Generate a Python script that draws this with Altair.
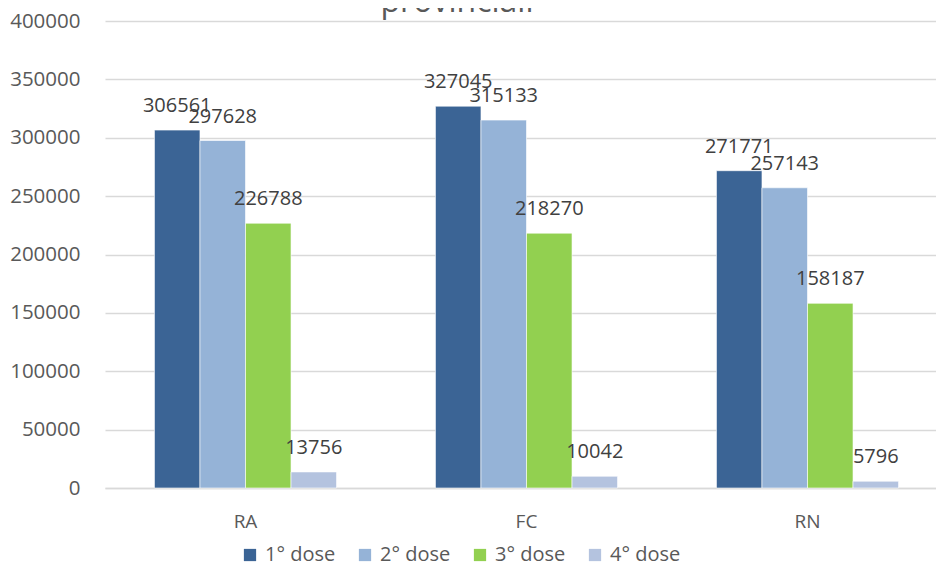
import altair as alt
import pandas as pd

provinces = ["RA", "FC", "RN"]
doses = ["1° dose", "2° dose", "3° dose", "4° dose"]
dose1 = [306561, 327045, 271771]
dose2 = [297628, 315133, 257143]
dose3 = [226788, 218270, 158187]
dose4 = [13756, 10042, 5796]
colors = ["#3B6495", "#95B3D7", "#92D050", "#B4C3DF"]
title_text = ["provinciali"]

rows = []
for i, p in enumerate(provinces):
    for d, vals in zip(doses, [dose1, dose2, dose3, dose4]):
        rows.append({"prov": p, "dose": d, "value": vals[i]})
df = pd.DataFrame(rows)

FONT = "Open Sans"

base = alt.Chart(df).encode(
    x=alt.X(
        "prov:N",
        sort=provinces,
        scale=alt.Scale(paddingInner=0.352, paddingOuter=0.176, range=[0, 843]),
        axis=alt.Axis(
            title=None, labelAngle=0, ticks=False, labelPadding=24,
            labelFontSize=19, labelColor="#595959", labelFont=FONT,
            domainColor="#D9D9D9", domainWidth=1.5, grid=False,
        ),
    ),
    xOffset=alt.XOffset("dose:N", sort=doses, scale=alt.Scale(paddingInner=0, paddingOuter=0)),
    y=alt.Y(
        "value:Q",
        scale=alt.Scale(domain=[0, 400000], nice=False),
        axis=alt.Axis(
            title=None, values=list(range(0, 400001, 50000)), format="d",
            ticks=False, domain=False, labelPadding=25, labelFontSize=20.5,
            labelColor="#595959", labelFont=FONT,
            gridColor="#D9D9D9", gridWidth=1.5,
        ),
    ),
)

bars = base.mark_bar(stroke="white", strokeWidth=0.6).encode(
    color=alt.Color(
        "dose:N",
        sort=doses,
        scale=alt.Scale(domain=doses, range=colors),
        legend=alt.Legend(
            title=None, orient="none", direction="horizontal", columns=4,
            legendX=135, legendY=524, symbolType="square", symbolSize=150,
            symbolStrokeWidth=0, labelFontSize=20, labelColor="#595959",
            labelFont=FONT, columnPadding=19, labelOffset=5,
        ),
    )
)

labels = base.mark_text(
    baseline="alphabetic", dy=-18, fontSize=20, color="#404040", font=FONT
).encode(text=alt.Text("value:Q", format="d"))

title = alt.Chart(pd.DataFrame({"t": title_text})).mark_text(
    baseline="alphabetic", align="center", fontSize=32, color="#595959", font=FONT
).encode(x=alt.value(352), y=alt.value(-9), text="t:N")

chart = alt.layer(bars, labels, title).properties(
    width=831, height=467,
    autosize=alt.AutoSizeParams(type="none"),
    padding={"left": 97, "top": 13, "right": 0, "bottom": 76},
).configure_view(stroke=None)

chart.save("out.html", embed_options={"renderer": "svg", "actions": False})
